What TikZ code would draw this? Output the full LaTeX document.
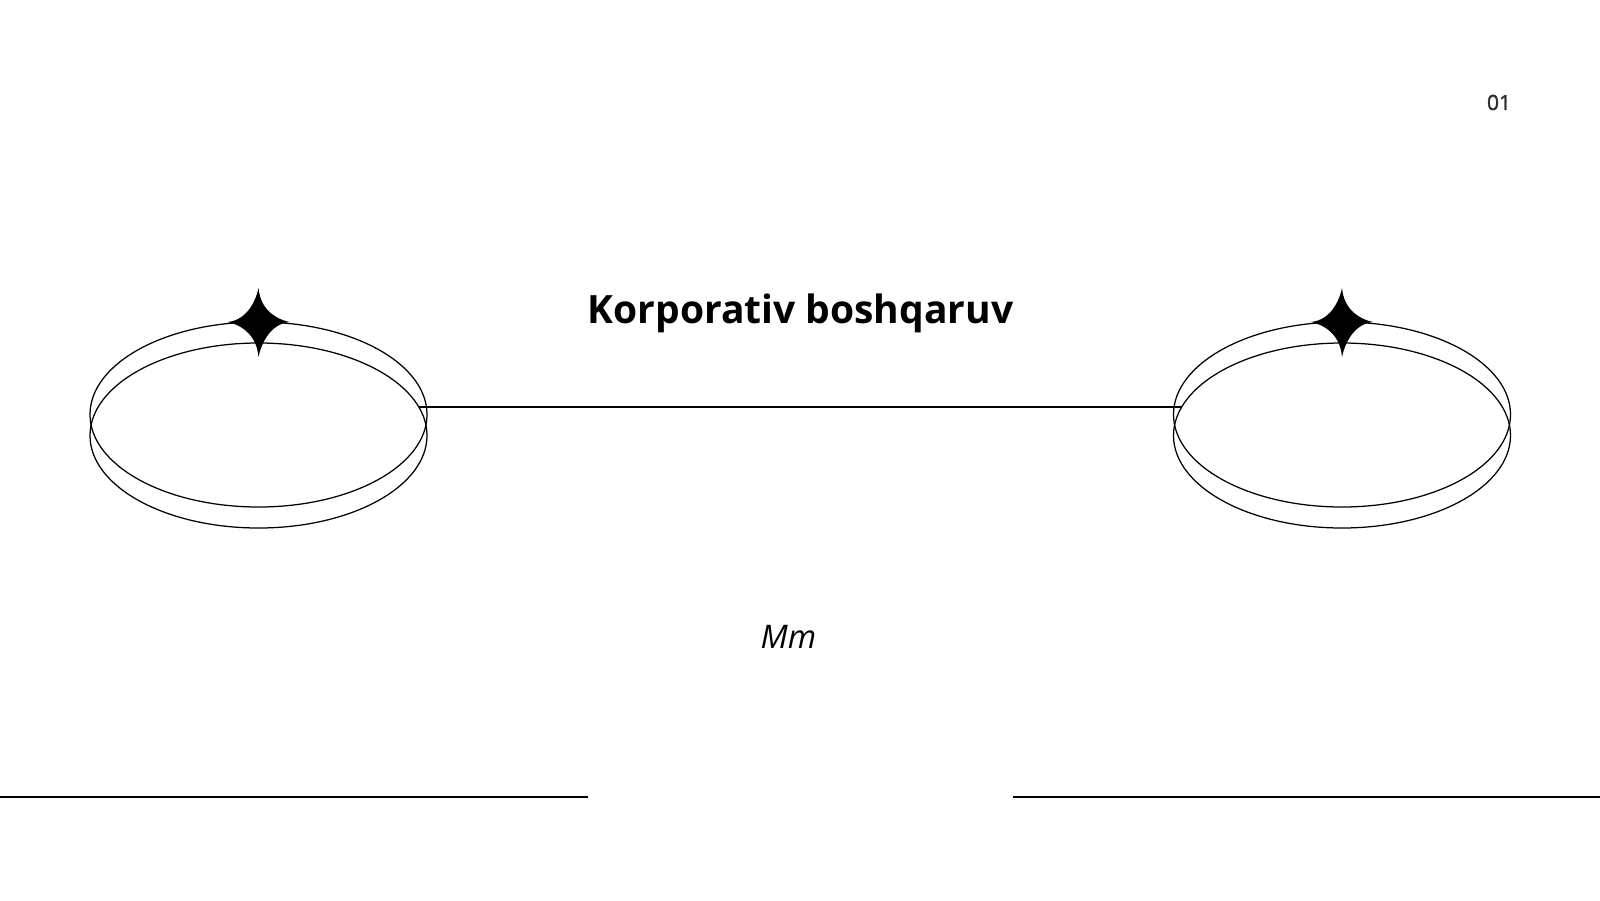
\documentclass[tikz,border=0pt]{standalone}
\usepackage{fontspec}
\setmainfont{Open Sans}
\newfontfamily\numfont[FakeBold=1.3]{Open Sans}
\usetikzlibrary{shapes.geometric}
\definecolor{numgray}{HTML}{2E2E2E}
\tikzset{
  ring/.style={draw=black, line width=1.25pt, ellipse, minimum width=337pt, minimum height=185pt, inner sep=0pt, outer sep=0pt},
  wire/.style={draw=black, line width=1.3pt},
  rule/.style={draw=black, line width=1.5pt},
  sparkle/.style={fill=black, draw=none},
  titletext/.style={font=\fontsize{39}{45}\selectfont\bfseries, anchor=base, inner sep=0pt},
  subtext/.style={font=\fontsize{32.5}{38}\selectfont\itshape, anchor=base, inner sep=0pt},
  numtext/.style={font=\numfont\fontsize{21}{25}\selectfont, text=numgray, anchor=base, inner sep=0pt}
}
\newcommand{\mysparkle}[2]{%
  \fill[sparkle] (#1,#2) ++(0,-34) .. controls ++(2,24) and ++(-10,-2) .. ++(31,34)
     .. controls ++(-21,2) and ++(2,-10) .. ++(-31,35)
     .. controls ++(-2,-25) and ++(10,2) .. ++(-31,-35)
     .. controls ++(21,-2) and ++(-2,10) .. ++(31,-34) -- cycle;}
\begin{document}
\begin{tikzpicture}[x=1pt, y=-1pt]
\useasboundingbox (0,0) rectangle (1600,900);
% left rings
\node[ring] (eL1) at (258.5,414.5) {};
\node[ring] (eL2) at (258.5,435.5) {};
% right rings
\node[ring] (eR1) at (1342,414.5) {};
\node[ring] (eR2) at (1342,435.5) {};
% connector end points on the lower rings
\coordinate (cL) at (418.8,407);
\coordinate (cR) at (1181.7,407);
\draw[wire] (cL) -- (cR);
% sparkles
\mysparkle{258.5}{322}
\mysparkle{1342}{322}
% texts
\node[titletext] (title) at (800.5,323) {Korporativ boshqaruv};
\node[subtext] (sub) at (788.5,648) {Mm};
\node[numtext] (num) at (1499,110) {01};
% bottom rules
\coordinate (bl0) at (0,797);
\coordinate (bl1) at (588,797);
\coordinate (br0) at (1013,797);
\coordinate (br1) at (1600,797);
\draw[rule] (bl0) -- (bl1);
\draw[rule] (br0) -- (br1);
\end{tikzpicture}
\end{document}
